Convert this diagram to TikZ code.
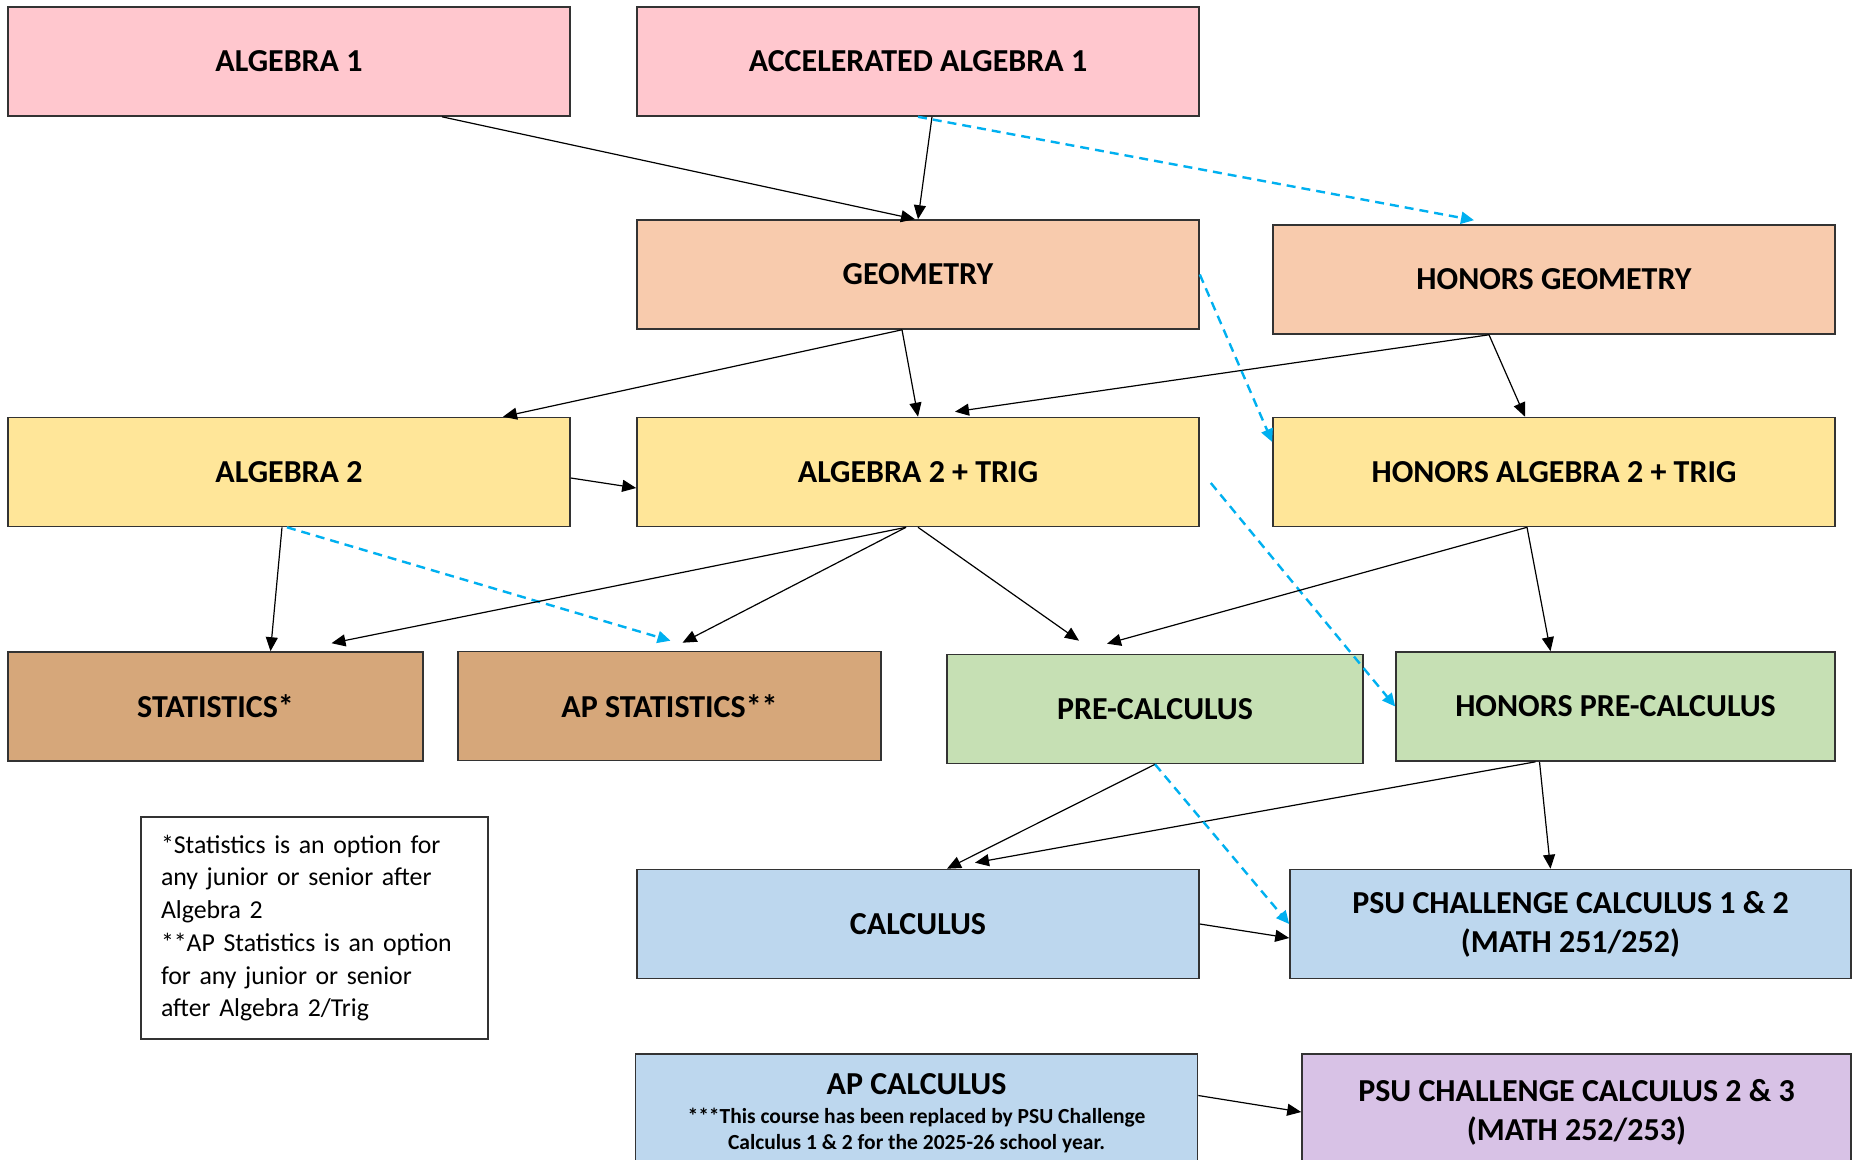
\documentclass[tikz,border=0pt]{standalone}
\usepackage{fontspec}
\setmainfont{Carlito}
\usetikzlibrary{arrows.meta}

\definecolor{rowpink}{RGB}{255,199,206}
\definecolor{rowpeach}{RGB}{248,203,173}
\definecolor{rowyellow}{RGB}{255,230,153}
\definecolor{rowtan}{RGB}{214,167,122}
\definecolor{rowgreen}{RGB}{198,224,180}
\definecolor{rowblue}{RGB}{189,215,238}
\definecolor{rowlilac}{RGB}{216,194,230}
\definecolor{honorsblue}{RGB}{0,176,240}

\newcommand{\apnote}{\fontsize{21.5}{26}\selectfont}

\begin{document}
\begin{tikzpicture}[x=1pt, y=-1pt,
  course/.style={draw=black!80, line width=1.6, minimum width=562, minimum height=109,
    align=center, font=\fontsize{32}{39}\selectfont\bfseries},
  prereq/.style={-{Triangle[length=14,width=12]}, line width=1.2},
  honors/.style={-{Triangle[length=13,width=12]}, honorsblue, line width=2.4, dash pattern=on 9 off 6}]

\clip (0, 0) rectangle (1857, 1159);
\fill [white] (0, 0) rectangle (1857, 1159);

\node [course, fill=rowpink] (alg1) at (289, 61.5) {ALGEBRA 1};
\node [course, fill=rowpink] (accalg1) at (918, 61.5) {ACCELERATED ALGEBRA 1};
\node [course, fill=rowpeach] (geom) at (918, 274.5) {GEOMETRY};
\node [course, fill=rowpeach] (hgeom) at (1554, 279.5) {HONORS GEOMETRY};
\node [course, fill=rowyellow] (alg2) at (289, 472) {ALGEBRA 2};
\node [course, fill=rowyellow] (alg2trig) at (918, 472) {ALGEBRA 2 + TRIG};
\node [course, fill=rowyellow] (halg2trig) at (1554, 472) {HONORS ALGEBRA 2 + TRIG};
\node [course, fill=rowtan, minimum width=415] (stats) at (215.5, 706.5) {STATISTICS*};
\node [course, fill=rowtan, minimum width=423] (apstats) at (669.5, 706) {AP STATISTICS**};
\node [course, fill=rowgreen, minimum width=416] (precalc) at (1155, 709) {PRE-CALCULUS};
\node [course, fill=rowgreen, minimum width=439] (hprecalc) at (1615.5, 706.5) {HONORS PRE-CALCULUS};
\node [course, fill=rowblue] (calc) at (918, 924) {CALCULUS};
\node [course, fill=rowblue, minimum width=561] (psu12) at (1570.5, 924) {PSU CHALLENGE CALCULUS 1 \& 2\\(MATH 251/252)};
\node [course, fill=rowblue, minimum height=119] (apcalc) at (916.5, 1113.5) {AP CALCULUS\\[-10pt]
  \apnote ***This course has been replaced by PSU Challenge\\[-13pt]\apnote Calculus 1 \& 2 for the 2025-26 school year.};
\node [course, fill=rowlilac, minimum width=549, minimum height=116] (psu23) at (1576.5, 1112) {PSU CHALLENGE CALCULUS 2 \& 3\\(MATH 252/253)};

\node [draw=black!80, line width=1.4, minimum width=347, minimum height=222, text width=307,
  inner xsep=20, align=left, font=\fontsize{25.8}{32.7}\selectfont] (note) at (314.5, 928)
  {*Statistics is an option for\\any junior or senior after\\Algebra 2\\{}**AP Statistics is an option\\for any junior or senior\\after Algebra 2/Trig};

\draw [prereq] ([xshift=153]alg1.south) -- ([xshift=-3]geom.north);
\draw [prereq] ([xshift=14]accalg1.south) -- (geom.north);
\draw [honors] (accalg1.south) -- ([xshift=-80, yshift=4]hgeom.north);

\draw [prereq] ([xshift=-16]geom.south) -- ([xshift=214]alg2.north);
\draw [prereq] ([xshift=-16]geom.south) -- (alg2trig.north);
\draw [prereq] ([xshift=-65]hgeom.south) -- ([xshift=37, yshift=5]alg2trig.north);
\draw [prereq] ([xshift=-65]hgeom.south) -- ([xshift=-29]halg2trig.north);
\draw [honors] (geom.east) -- ([yshift=30]halg2trig.west);

\draw [prereq] ([yshift=-6]alg2.east) -- ([yshift=-16]alg2trig.west);
\draw [prereq] ([xshift=-7]alg2.south) -- ([xshift=55]stats.north);
\draw [honors] ([xshift=-2]alg2.south) -- ([xshift=1, yshift=10]apstats.north);
\draw [prereq] ([xshift=-12]alg2trig.south) -- ([xshift=116, yshift=8]stats.north);
\draw [prereq] ([xshift=-12]alg2trig.south) -- ([xshift=13, yshift=8]apstats.north);
\draw [prereq] (alg2trig.south) -- ([xshift=-76, yshift=13]precalc.north);
\draw [honors] ([xshift=11, yshift=-11]alg2trig.east) -- (hprecalc.west);
\draw [prereq] ([xshift=-27]halg2trig.south) -- ([xshift=-48, yshift=10]precalc.north);
\draw [prereq] ([xshift=-27]halg2trig.south) -- ([xshift=-65]hprecalc.north);

\draw [prereq] (precalc.south) -- ([xshift=29]calc.north);
\draw [prereq] ([xshift=-80]hprecalc.south) -- ([xshift=57, yshift=6]calc.north);
\draw [prereq] ([xshift=-76]hprecalc.south) -- ([xshift=-20]psu12.north);
\draw [honors] (precalc.south) -- (psu12.west);
\draw [prereq] (calc.east) -- ([yshift=-14]psu12.west);
\draw [prereq] ([yshift=18]apcalc.east) -- (psu23.west);

\end{tikzpicture}
\end{document}
